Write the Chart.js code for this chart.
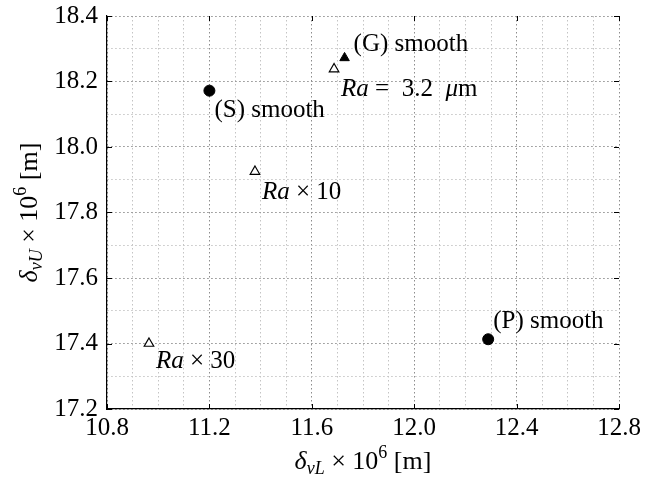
<!DOCTYPE html>
<html>
<head>
<meta charset="utf-8">
<script src="https://cdn.jsdelivr.net/npm/chart.js@4/dist/chart.umd.min.js"></script>
<style>
  html, body { margin: 0; padding: 0; background: #fff; }
  #wrap { width: 667px; height: 479px; position: relative; }
</style>
</head>
<body>
<div id="wrap"><canvas id="chart"></canvas></div>
<script>
// values
const smoothCircleX = [11.2, 12.289];
const smoothCircleY = [18.172, 17.413];
const smoothTriX = [11.728];
const smoothTriY = [18.272];
const roughX = [11.687, 11.378, 10.964];
const roughY = [18.238, 17.925, 17.4];

const xTickLabels = ["10.8", "11.2", "11.6", "12.0", "12.4", "12.8"];
const yTickLabels = ["17.2", "17.4", "17.6", "17.8", "18.0", "18.2", "18.4"];

// annotation text: [segment, italic]
const pointNotes = [
  { set: 0, i: 0, text: [["(S)", false], [" smooth", false]], dx: 5, dy: 20 },
  { set: 0, i: 1, text: [["(P)", false], [" smooth", false]], dx: 5, dy: -18 },
  { set: 1, i: 0, text: [["(G)", false], [" smooth", false]], dx: 9, dy: -13 },
  { set: 2, i: 0, text: [["Ra", true], [" =  ", false], ["3.2  ", false], ["μ", true], ["m", false]], dx: 7, dy: 20 },
  { set: 2, i: 1, text: [["Ra", true], [" × 10", false]], dx: 7, dy: 21 },
  { set: 2, i: 2, text: [["Ra", true], [" × 30", false]], dx: 7, dy: 18 },
];

const serif = "'Liberation Serif', 'DejaVu Serif', serif";

const toPoints = (xs, ys) => xs.map((x, i) => ({ x, y: ys[i] }));

const isMajor = (v, step) => Math.abs(v / step - Math.round(v / step)) < 1e-6;

const drawSegments = (ctx, segs, x, y, size) => {
  let cx = x;
  segs.forEach(([t, it]) => {
    ctx.font = `${it ? "italic " : ""}${size}px ${serif}`;
    ctx.fillText(t, cx, y);
    cx += ctx.measureText(t).width;
  });
};

const notesPlugin = {
  id: "notes",
  afterDatasetsDraw(chart) {
    const { ctx } = chart;
    ctx.save();
    ctx.fillStyle = "#000";
    ctx.textBaseline = "middle";
    ctx.textAlign = "left";
    pointNotes.forEach((n) => {
      const pt = chart.getDatasetMeta(n.set).data[n.i];
      drawSegments(ctx, n.text, pt.x + n.dx, pt.y + n.dy, 25);
    });
    ctx.restore();
  },
};

// axis titles with subscripts / superscripts
const drawTitle = (ctx, sub) => {
  const big = 26, small = 18;
  const parts = [
    ["δ", `italic ${big}px ${serif}`, 0],
    [sub, `italic ${small}px ${serif}`, 7],
    [" × 10", `${big}px ${serif}`, 0],
    ["6", `${small}px ${serif}`, -9],
    [" [m]", `${big}px ${serif}`, 0],
  ];
  let w = 0;
  parts.forEach(([t, f]) => { ctx.font = f; w += ctx.measureText(t).width; });
  let cx = -w / 2;
  parts.forEach(([t, f, dy]) => {
    ctx.font = f;
    ctx.fillText(t, cx, dy);
    cx += ctx.measureText(t).width;
  });
};

const titlesPlugin = {
  id: "titles",
  afterDraw(chart) {
    const { ctx, chartArea } = chart;
    ctx.save();
    ctx.fillStyle = "#000";
    ctx.textBaseline = "middle";
    ctx.textAlign = "left";
    ctx.translate((chartArea.left + chartArea.right) / 2, 462);
    drawTitle(ctx, "vL");
    ctx.restore();

    ctx.save();
    ctx.fillStyle = "#000";
    ctx.textBaseline = "middle";
    ctx.textAlign = "left";
    ctx.translate(30, (chartArea.top + chartArea.bottom) / 2);
    ctx.rotate(-Math.PI / 2);
    drawTitle(ctx, "vU");
    ctx.restore();

    // small inward major ticks
    const { x, y } = chart.scales;
    ctx.save();
    ctx.strokeStyle = "#000";
    ctx.lineWidth = 1;
    ctx.beginPath();
    xTickLabels.forEach((t) => {
      const px = Math.round(x.getPixelForValue(+t)) + 0.5;
      ctx.moveTo(px, chartArea.bottom);
      ctx.lineTo(px, chartArea.bottom - 5);
      ctx.moveTo(px, chartArea.top);
      ctx.lineTo(px, chartArea.top + 5);
    });
    yTickLabels.forEach((t) => {
      const py = Math.round(y.getPixelForValue(+t)) + 0.5;
      ctx.moveTo(chartArea.left, py);
      ctx.lineTo(chartArea.left + 5, py);
      ctx.moveTo(chartArea.right, py);
      ctx.lineTo(chartArea.right - 5, py);
    });
    ctx.stroke();
    ctx.restore();
  },
};

const gridColor = (step, base) => (c) =>
  isMajor(c.tick.value - base, step) ? "#8c8c8c" : "#c4c4c4";

const chartConfig = {
  type: "scatter",
  data: {
    datasets: [
      {
        label: "smooth circle",
        data: toPoints(smoothCircleX, smoothCircleY),
        pointStyle: "circle",
        pointRadius: 5.5,
        backgroundColor: "#000",
        borderColor: "#000",
      },
      {
        label: "smooth triangle",
        data: toPoints(smoothTriX, smoothTriY),
        pointStyle: "triangle",
        pointRadius: 5.5,
        backgroundColor: "#000",
        borderColor: "#000",
      },
      {
        label: "rough",
        data: toPoints(roughX, roughY),
        pointStyle: "triangle",
        pointRadius: 5.5,
        borderWidth: 1.2,
        backgroundColor: "#fff",
        borderColor: "#000",
      },
    ],
  },
  options: {
    responsive: true,
    maintainAspectRatio: false,
    animation: false,
    layout: { padding: { top: 0, right: 48, left: 0, bottom: 0 } },
    plugins: {
      legend: { display: false },
      tooltip: { enabled: false },
    },
    scales: {
      x: {
        min: 10.8,
        max: 12.8,
        afterFit(scale) { scale.height = 70; },
        border: { color: "#000", width: 1.2, dash: [1.5, 2.5] },
        grid: {
          color: gridColor(0.4, 10.8),
          lineWidth: 1,
          drawTicks: false,
        },
        ticks: {
          stepSize: 0.1,
          autoSkip: false,
          maxRotation: 0,
          padding: 4,
          color: "#000",
          font: { family: serif, size: 25 },
          callback: (v) => {
            const s = Number(v).toFixed(1);
            return xTickLabels.includes(s) ? s : "";
          },
        },
      },
      y: {
        min: 17.2,
        max: 18.4,
        afterFit(scale) {
          scale.width = 107;
          scale.paddingTop = 16;
        },
        border: { color: "#000", width: 1.2, dash: [1.5, 2.5] },
        grid: {
          color: gridColor(0.2, 0),
          lineWidth: 1,
          drawTicks: false,
        },
        ticks: {
          stepSize: 0.1,
          autoSkip: false,
          padding: 9,
          color: "#000",
          font: { family: serif, size: 25 },
          callback: (v) => {
            const s = Number(v).toFixed(1);
            return yTickLabels.includes(s) ? s : "";
          },
        },
      },
    },
  },
  plugins: [notesPlugin, titlesPlugin],
};

const chartInstance = new Chart(document.getElementById("chart"), chartConfig);
</script>
</body>
</html>
